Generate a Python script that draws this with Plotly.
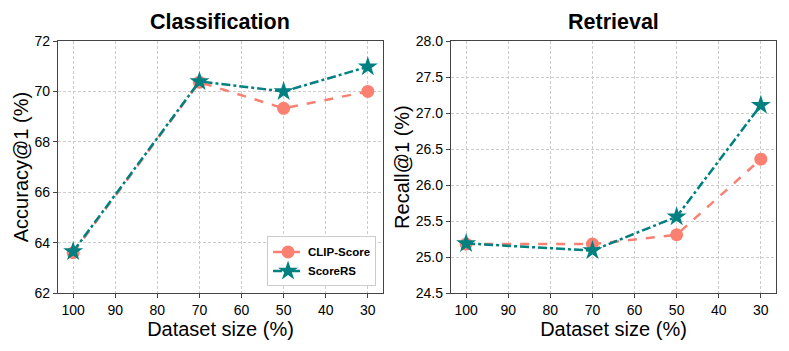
import plotly.graph_objects as go

# dataset sizes (%)
tamanhos = [100, 70, 50, 30]

# classification accuracy@1
clip_cls = [63.6, 70.37, 69.33, 70.0]
scorers_cls = [63.65, 70.4, 70.0, 70.98]

# retrieval recall@1
clip_ret = [25.18, 25.18, 25.31, 26.36]
scorers_ret = [25.19, 25.09, 25.56, 27.11]

x_ticks = [100, 90, 80, 70, 60, 50, 40, 30]

COR_CLIP = "#FA8072"
COR_RS = "#008080"
FONTE = "Arial, Liberation Sans, sans-serif"

fig = go.Figure()

# =========================
# SERIES
# =========================

paineis = [
    ("x", "y", clip_cls, scorers_cls, True),
    ("x2", "y2", clip_ret, scorers_ret, False),
]

for xa, ya, clip, rs, mostrar in paineis:
    fig.add_trace(go.Scatter(
        x=tamanhos, y=clip, xaxis=xa, yaxis=ya,
        mode="lines+markers", name="CLIP-Score",
        line=dict(color=COR_CLIP, width=2.5, dash="dash"),
        marker=dict(symbol="circle", size=13, color=COR_CLIP),
        showlegend=mostrar
    ))
    fig.add_trace(go.Scatter(
        x=tamanhos, y=rs, xaxis=xa, yaxis=ya,
        mode="lines+markers", name="ScoreRS",
        line=dict(color=COR_RS, width=2.5, dash="dashdot"),
        marker=dict(symbol="star", size=15, color=COR_RS),
        showlegend=mostrar
    ))

# =========================
# AXES
# =========================

eixo_comum = dict(
    showline=True, mirror=True, linecolor="#444", linewidth=1.3,
    ticks="outside", ticklen=4, tickcolor="#444",
    showgrid=True, gridcolor="#cccccc", griddash="3px,2px", gridwidth=1,
    zeroline=False, automargin=False,
    tickfont=dict(family=FONTE, size=14, color="black"),
)

titulo_x = dict(text="Dataset size (%)", font=dict(family=FONTE, size=20, color="black"), standoff=4)

fig.update_layout(
    width=789, height=351,
    margin=dict(l=0, r=0, t=0, b=0, autoexpand=False),
    paper_bgcolor="white", plot_bgcolor="white",
    font=dict(family=FONTE, color="black"),
    xaxis=dict(domain=[0.0735, 0.4854], range=[103.6, 26.4], tickvals=x_ticks,
               title=titulo_x, anchor="y", **eixo_comum),
    yaxis=dict(domain=[0.165, 0.883], range=[62, 72], dtick=2,
               title=dict(text="Accuracy@1 (%)", font=dict(family=FONTE, size=20, color="black"), standoff=0),
               anchor="x", **eixo_comum),
    xaxis2=dict(domain=[0.5716, 0.9835], range=[103.6, 26.4], tickvals=x_ticks,
                title=titulo_x, anchor="y2", **eixo_comum),
    yaxis2=dict(domain=[0.165, 0.883], range=[24.5, 28.0], dtick=0.5, tickformat=".1f",
                title=dict(text="Recall@1 (%)", font=dict(family=FONTE, size=20, color="black"), standoff=0),
                anchor="x2", **eixo_comum),
    legend=dict(
        x=0.4766, y=0.184, xanchor="right", yanchor="bottom",
        bgcolor="white", bordercolor="#cccccc", borderwidth=1,
        font=dict(family=FONTE, size=11.5, color="black", weight="bold"),
        tracegroupgap=0, itemwidth=30,
    ),
    annotations=[
        dict(text="<b>Classification</b>", x=0.279, y=0.937, xref="paper", yref="paper",
             xanchor="center", yanchor="middle",
             showarrow=False, font=dict(family=FONTE, size=21.5, color="black")),
        dict(text="<b>Retrieval</b>", x=0.7775, y=0.937, xref="paper", yref="paper",
             xanchor="center", yanchor="middle",
             showarrow=False, font=dict(family=FONTE, size=21.5, color="black")),
    ],
)

fig.write_html("out.html", config={"displayModeBar": False},
               post_script="document.body.style.margin='0';")
